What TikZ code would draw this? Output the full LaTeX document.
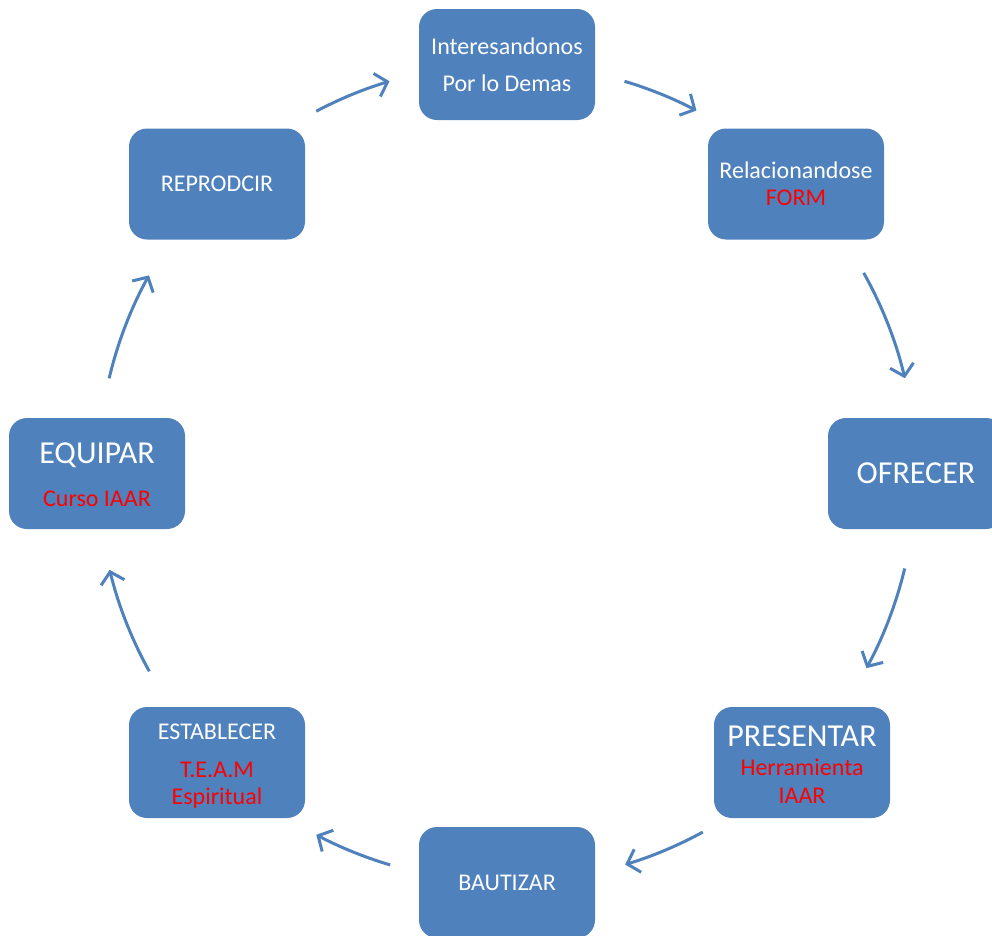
\documentclass[tikz,border=0pt]{standalone}
\usepackage{fontspec}
\setmainfont{Carlito}
\usetikzlibrary{arrows.meta}
\definecolor{boxblue}{HTML}{4F81BD}
\definecolor{txtred}{HTML}{FF0000}
\tikzset{
  stepbox/.style={fill=boxblue, rounded corners=18pt, minimum width=176pt, minimum height=111pt,
    inner sep=0pt, text=white, align=center},
  boxtext/.style={inner sep=0pt, text=white, align=center},
  small/.style={font=\fontsize{24}{27}\selectfont},
  big/.style={font=\fontsize{32}{34}\selectfont},
  cyc/.style={draw=boxblue, line width=3pt, -{Straight Barb[length=11pt,width=24pt,line width=3pt]}}
}
\begin{document}
\begin{tikzpicture}[x=1pt,y=1pt]
\useasboundingbox (0,0) rectangle (992,-935);
\clip (0,0) rectangle (992,-935);
\coordinate (C) at (507,-473);
\node[stepbox, font=\fontsize{24}{37}\selectfont] (inter) at (507,-64.5) {Interesandonos\\Por lo Demas};
\node[stepbox, small] (rel) at (796,-184) {Relacionandose\\\textcolor{txtred}{FORM}};
\node[stepbox, big] (ofr) at (916,-473.5) {OFRECER};
\node[stepbox] (pres) at (802,-762.5) {};
\node[boxtext, font=\fontsize{24}{28}\selectfont] (prestxt) at ([yshift=-2pt]pres.center) {\fontsize{32}{31}\selectfont PRESENTAR\\[1pt]\fontsize{24}{28}\selectfont\color{txtred}Herramienta\\\textcolor{txtred}{IAAR}};
\node[stepbox, small] (baut) at (507,-882.5) {BAUTIZAR};
\node[stepbox] (est) at (217,-762.5) {};
\node[boxtext, small] (esttxt) at ([yshift=-4pt]est.center) {ESTABLECER\\[11pt]\textcolor{txtred}{T.E.A.M}\\\textcolor{txtred}{Espiritual}};
\node[stepbox] (equ) at (97,-473.5) {};
\node[boxtext, font=\fontsize{24}{27}\selectfont] (equtxt) at ([yshift=-1.5pt]equ.center) {\fontsize{32}{31}\selectfont EQUIPAR\\[16pt]\fontsize{24}{27}\selectfont\textcolor{txtred}{Curso IAAR}};
\node[stepbox, small] (rep) at (217,-184) {REPRODCIR};
% arrows along a circle
\coordinate (a1) at ([shift={(117.8:409)}]C);
\coordinate (a2) at ([shift={(73.3:409)}]C);
\coordinate (a3) at ([shift={(29.3:409)}]C);
\coordinate (a4) at ([shift={(-13.5:409)}]C);
\coordinate (a5) at ([shift={(-61.4:409)}]C);
\coordinate (a6) at ([shift={(-106.6:409)}]C);
\coordinate (a7) at ([shift={(-151:409)}]C);
\coordinate (a8) at ([shift={(166.6:409)}]C);
\draw[cyc] (a1) arc[start angle=117.8, end angle=106.7, radius=409];
\draw[cyc] (a2) arc[start angle=73.3, end angle=62.4, radius=409];
\draw[cyc] (a3) arc[start angle=29.3, end angle=13.4, radius=409];
\draw[cyc] (a4) arc[start angle=-13.5, end angle=-28.5, radius=409];
\draw[cyc] (a5) arc[start angle=-61.4, end angle=-73.2, radius=409];
\draw[cyc] (a6) arc[start angle=-106.6, end angle=-117.8, radius=409];
\draw[cyc] (a7) arc[start angle=-151, end angle=-166.3, radius=409];
\draw[cyc] (a8) arc[start angle=166.6, end angle=151.1, radius=409];
\end{tikzpicture}
\end{document}
